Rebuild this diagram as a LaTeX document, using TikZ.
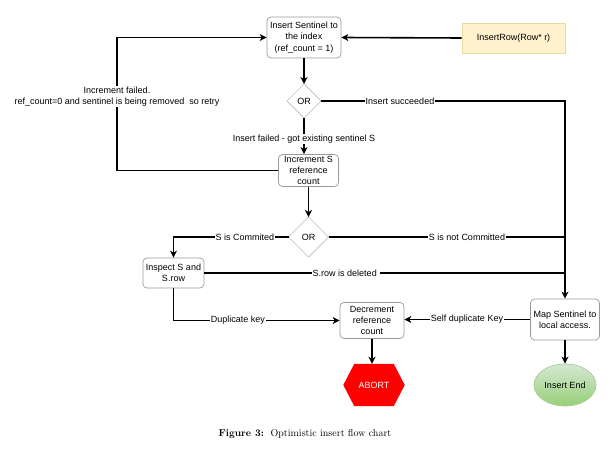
\documentclass[tikz,border=0pt]{standalone}
\usepackage{fontspec}
\newfontfamily\dfont{Liberation Sans}
\usetikzlibrary{arrows.meta,calc,shapes.geometric}
\definecolor{rowfill}{HTML}{FFF2CC}
\definecolor{rowdraw}{HTML}{E8D9A0}
\definecolor{boxdraw}{HTML}{9A9A9A}
\definecolor{dia}{HTML}{BBBBBB}
\definecolor{endtop}{HTML}{D5E8D4}
\definecolor{endbot}{HTML}{97D077}
\definecolor{enddraw}{HTML}{A8CC98}
\tikzset{
  box/.style={draw=boxdraw, line width=0.7pt, rounded corners=4pt, align=center, inner sep=0pt},
  lbl/.style={fill=white, inner sep=1pt, align=center},
  conn/.style={line width=1.6pt, -{Stealth[length=7pt,width=7pt,inset=2pt]}},
  plain/.style={line width=1.6pt}
}
\begin{document}
\begin{tikzpicture}[x=1pt,y=-1pt,font=\dfont\fontsize{9}{11.3}\selectfont]
\useasboundingbox (0,0) rectangle (610,457);
% nodes
\node[box, minimum width=74, minimum height=41] (sent) at (304,37.5) {Insert Sentinel to\\the index\\(ref\_count = 1)};
\node[draw=rowdraw, fill=rowfill, line width=0.6pt, minimum width=103, minimum height=30] (row) at (513.5,38) {InsertRow(Row* r)};
% diamond 1
\coordinate (or1) at (304,101);
\coordinate (or1n) at (304,84);
\coordinate (or1s) at (304,118);
\coordinate (or1e) at (321,101);
\coordinate (or1w) at (287,101);
\draw[draw=dia, line width=0.7pt] (or1n) -- (or1e) -- (or1s) -- (or1w) -- cycle;
\node (or1t) at (or1) {OR};
\node[box, minimum width=60, minimum height=32] (incr) at (308.5,170.5) {Increment S\\reference\\count};
% diamond 2
\coordinate (or2) at (308.5,237);
\coordinate (or2n) at (308.5,217);
\coordinate (or2s) at (308.5,257);
\coordinate (or2e) at (328.5,237);
\coordinate (or2w) at (288.5,237);
\draw[draw=dia, line width=0.7pt] (or2n) -- (or2e) -- (or2s) -- (or2w) -- cycle;
\node (or2t) at (or2) {OR};
\node[box, minimum width=61, minimum height=30] (insp) at (173.5,273) {Inspect S and\\S.row};
\node[box, minimum width=69, minimum height=41] (map) at (565,319.5) {Map Sentinel to\\local access.};
\node[box, minimum width=64, minimum height=36] (decr) at (372,320.5) {Decrement\\reference\\count};
% abort hexagon
\node[minimum width=61, minimum height=42, inner sep=0pt] (abort) at (374,385) {};
\fill[red] (abort.west) -- ($(abort.north west)+(11,0)$) -- ($(abort.north east)+(-11,0)$) -- (abort.east) -- ($(abort.south east)+(-11,0)$) -- ($(abort.south west)+(11,0)$) -- cycle;
\node[text=white] (abortt) at (abort) {ABORT};
\node[ellipse, draw=enddraw, line width=0.7pt, top color=endtop, bottom color=endbot, minimum width=62, minimum height=42, inner sep=0pt] (iend) at (565,385) {Insert End};
% corners
\coordinate (c1) at (565,101);
\coordinate (lt) at (117,37.5);
\coordinate (lb) at (117,170.5);
% connectors
\draw[conn] (row.west) -- (sent.east);
\draw[conn] (sent.south) -- (or1n);
\draw[conn] (or1e) -- (c1) -- (map.north);
\node[lbl] at (400,101) {Insert succeeded};
\draw[conn] (or1s) -- (or1s |- incr.north);
\node[lbl] at (304,139) {Insert failed - got existing sentinel S};
\draw[conn] (incr.west) -- (lb) -- (lt) -- (sent.west);
\node[lbl] at (117,96.5) {Increment failed.\\ref\_count=0 and sentinel is being removed\ \ so retry};
\draw[conn] (incr.south) -- (or2n);
\draw[conn] (or2w) -| (insp.north);
\node[lbl] at (245,237) {S is Commited};
\draw[plain] (or2e) -- (or2e -| map.north);
\node[lbl] at (467,237) {S is not Committed};
\draw[plain] (insp.east) -- (insp.east -| map.north);
\node[lbl] at (346,273) {S.row is deleted };
\draw[conn] (insp.south) |- (decr.west);
\node[lbl] at (238,320.5) {Duplicate key};
\draw[conn] (map.west) -- (map.west -| decr.east);
\node[lbl] at (467,319.5) {Self duplicate Key};
\draw[conn] (decr.south) -- (decr.south |- abort.north);
\draw[conn] (map.south) -- (iend.north);
% caption
\node[font=\rmfamily\fontsize{10}{12}\selectfont] (cap) at (305,434) {\textbf{Figure 3:}\ \ Optimistic insert flow chart};
\end{tikzpicture}
\end{document}
